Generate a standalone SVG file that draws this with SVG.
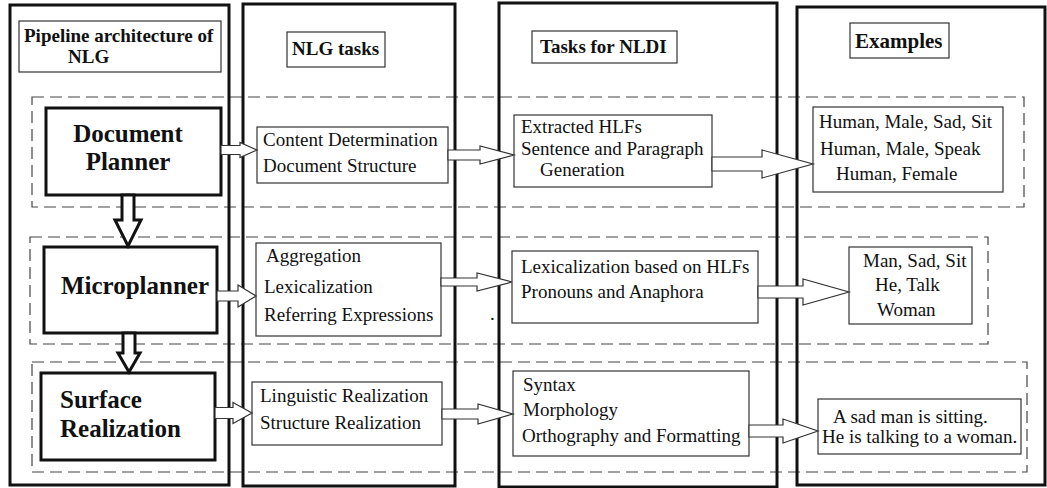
<svg xmlns="http://www.w3.org/2000/svg" width="1047" height="488" viewBox="0 0 1047 488" font-family="'Liberation Serif', 'Times New Roman', 'DejaVu Serif', serif">
  <style>
    text { font-family: 'Liberation Serif', 'Times New Roman', 'DejaVu Serif', serif; fill: #111; }
    .hdr { font-size: 19px; font-weight: bold; }
    .big { font-size: 25px; font-weight: bold; }
    .txt { font-size: 19px; }
    .frame { fill: none; stroke: #111; stroke-width: 3; }
    .band { fill: none; stroke: #444; stroke-width: 1.2; stroke-dasharray: 12 6; }
    .hbox { fill: #fff; stroke: #333; stroke-width: 1.2; }
    .stage { fill: #fff; stroke: #111; stroke-width: 3; }
    .task { fill: #fff; stroke: #333; stroke-width: 1.2; }
    .flow { fill: #fff; stroke: #333; stroke-width: 1.2; stroke-linejoin: miter; }
    .down { fill: #fff; stroke: #111; stroke-width: 3; stroke-linejoin: miter; }
  </style>
  <rect width="1047" height="488" fill="#fff"/>

  <!-- horizontal dashed bands, one per pipeline stage -->
  <g id="bands">
    <rect class="band" x="32" y="97" width="992" height="110"/>
    <rect class="band" x="30" y="237" width="958" height="107"/>
    <rect class="band" x="32" y="362" width="995" height="110"/>
  </g>

  <!-- column frames -->
  <g id="columns">
    <rect class="frame" x="10" y="5" width="219" height="480"/>
    <rect class="frame" x="243" y="4" width="212" height="482"/>
    <rect class="frame" x="499" y="3" width="278" height="484"/>
    <rect class="frame" x="797" y="7" width="248" height="478"/>
  </g>

  <!-- column headers -->
  <g id="hdr-pipeline">
    <rect class="hbox" x="19" y="21" width="202" height="51"/>
    <text class="hdr" x="24" y="42">Pipeline architecture of</text>
    <text class="hdr" x="68" y="63">NLG</text>
  </g>
  <g id="hdr-nlg-tasks">
    <rect class="hbox" x="287" y="32" width="98" height="35"/>
    <text class="hdr" x="292" y="55">NLG tasks</text>
  </g>
  <g id="hdr-nldi">
    <rect class="hbox" x="532" y="31" width="145" height="32"/>
    <text class="hdr" x="540" y="53">Tasks for NLDI</text>
  </g>
  <g id="hdr-examples">
    <rect class="hbox" x="850" y="23" width="99" height="35"/>
    <text class="hdr" x="855" y="48" style="font-size:21px">Examples</text>
  </g>

  <!-- pipeline stages -->
  <g id="document-planner">
    <rect class="stage" x="46" y="108" width="175" height="87"/>
    <text class="big" x="128" y="142" text-anchor="middle">Document</text>
    <text class="big" x="128" y="170" text-anchor="middle">Planner</text>
  </g>
  <g id="microplanner">
    <rect class="stage" x="44" y="247" width="173" height="86"/>
    <text class="big" x="135" y="294" text-anchor="middle">Microplanner</text>
  </g>
  <g id="surface-realization">
    <rect class="stage" x="41" y="373" width="174" height="87"/>
    <text class="big" x="60" y="408">Surface</text>
    <text class="big" x="60" y="437">Realization</text>
  </g>

  <!-- NLG task boxes -->
  <g id="content-determination">
    <rect class="task" x="257" y="127" width="191" height="56"/>
    <text class="txt" x="263" y="146">Content Determination</text>
    <text class="txt" x="263" y="172">Document Structure</text>
  </g>
  <g id="aggregation">
    <rect class="task" x="256" y="243" width="185" height="93"/>
    <text class="txt" x="266" y="262">Aggregation</text>
    <text class="txt" x="264" y="293">Lexicalization</text>
    <text class="txt" x="264" y="321">Referring Expressions</text>
  </g>
  <g id="linguistic-realization">
    <rect class="task" x="252" y="382" width="190" height="63"/>
    <text class="txt" x="260" y="402">Linguistic Realization</text>
    <text class="txt" x="260" y="429">Structure Realization</text>
  </g>

  <!-- NLDI task boxes -->
  <g id="extracted-hlfs">
    <rect class="task" x="514" y="115" width="198" height="72"/>
    <text class="txt" x="521" y="133">Extracted HLFs</text>
    <text class="txt" x="521" y="155">Sentence and Paragraph</text>
    <text class="txt" x="540" y="176">Generation</text>
  </g>
  <g id="lexicalization-hlfs">
    <rect class="task" x="512" y="251" width="246" height="72"/>
    <text class="txt" x="521" y="273">Lexicalization based on HLFs</text>
    <text class="txt" x="521" y="298">Pronouns and Anaphora</text>
  </g>
  <g id="syntax">
    <rect class="task" x="513" y="371" width="236" height="85"/>
    <text class="txt" x="523" y="391">Syntax</text>
    <text class="txt" x="523" y="416">Morphology</text>
    <text class="txt" x="522" y="442">Orthography and Formatting</text>
  </g>
  <text class="txt" x="490" y="320">.</text>

  <!-- example boxes -->
  <g id="example-hlfs">
    <rect class="task" x="813" y="107" width="190" height="85"/>
    <text class="txt" x="819" y="128">Human, Male, Sad, Sit</text>
    <text class="txt" x="820" y="155">Human, Male, Speak</text>
    <text class="txt" x="836" y="180">Human, Female</text>
  </g>
  <g id="example-words">
    <rect class="task" x="849" y="247" width="123" height="77"/>
    <text class="txt" x="863" y="267">Man, Sad, Sit</text>
    <text class="txt" x="875" y="291">He, Talk</text>
    <text class="txt" x="877" y="316">Woman</text>
  </g>
  <g id="example-sentences">
    <rect class="task" x="818" y="399" width="203" height="55"/>
    <text class="txt" x="833" y="423">A sad man is sitting.</text>
    <text class="txt" x="822" y="443">He is talking to a woman.</text>
  </g>

  <!-- block-arrow connectors -->
  <g id="connectors">
    <polygon class="down" points="122,195 134,195 134,220 141,220 128,246 115,220 122,220"/>
    <polygon class="down" points="123,333 135,333 135,353 140,353 129,372 118,353 123,353"/>

    <polygon class="flow" points="221,145.5 240,145.5 240,142.5 257,150 240,157.5 240,154.5 221,154.5"/>
    <polygon class="flow" points="448,150 480,150 480,146 514,155 480,164 480,160 448,160"/>
    <polygon class="flow" points="712,157 762,157 762,150 813,164 762,178 762,171 712,171"/>

    <polygon class="flow" points="217,291 238,291 238,285 256,296 238,307 238,301 217,301"/>
    <polygon class="flow" points="441,278 477,278 477,273 512,282 477,291 477,286 441,286"/>
    <polygon class="flow" points="758,286 803,286 803,279 849,292 803,305 803,298 758,298"/>

    <polygon class="flow" points="215,407.5 233,407.5 233,402.5 252,413 233,423.5 233,418.5 215,418.5"/>
    <polygon class="flow" points="442,409 478,409 478,404 513,414 478,424 478,419 442,419"/>
    <polygon class="flow" points="749,425 783,425 783,419 818,431 783,443 783,437 749,437"/>
  </g>
</svg>
